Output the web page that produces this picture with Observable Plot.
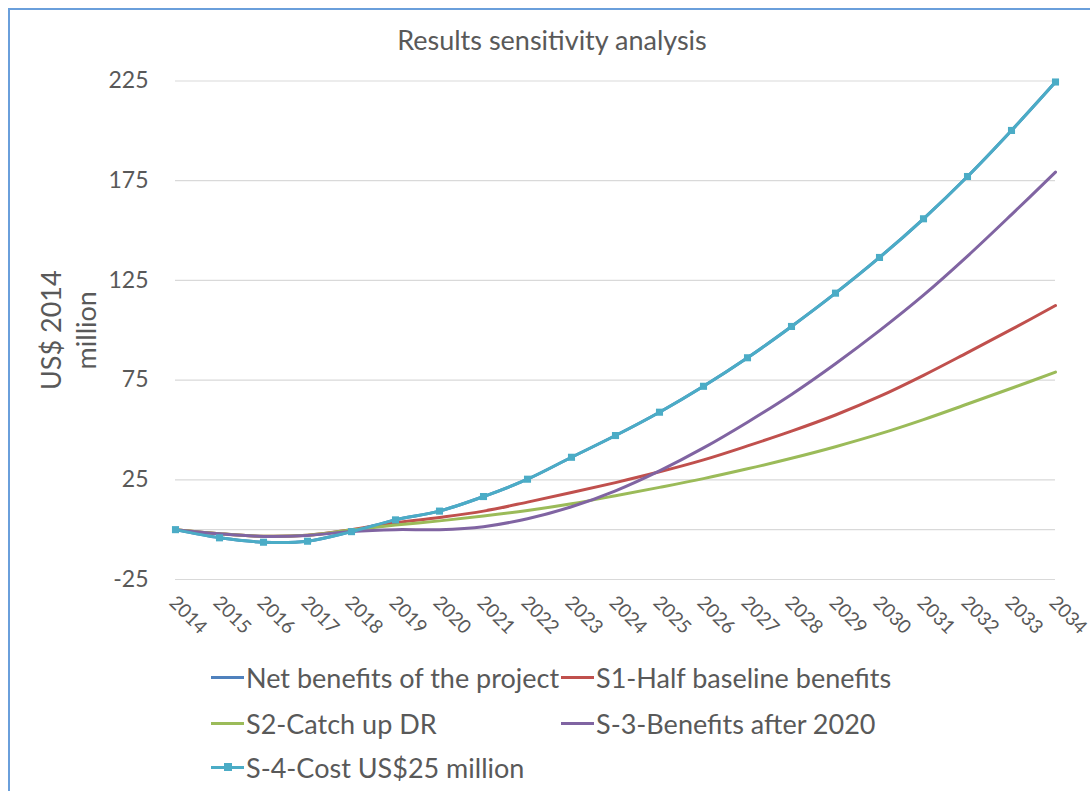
<!DOCTYPE html>
<html><head><meta charset="utf-8">
<script src="https://cdn.jsdelivr.net/npm/d3@7"></script>
<script src="https://cdn.jsdelivr.net/npm/@observablehq/plot@0.6"></script>
<style>
body{margin:0;background:#fff;overflow:hidden;font-family:Lato,"Open Sans",sans-serif;}
#wrap{position:relative;width:1090px;height:791px;overflow:hidden;background:#fff;}
#frame{position:absolute;left:8px;top:8px;width:1200px;height:900px;border:2px solid #6A9FDB;box-sizing:border-box;}
#chart{position:absolute;left:0;top:0;}
#chart svg{overflow:visible;}
#title{position:absolute;left:0;top:24px;width:1104px;text-align:center;font-size:27px;line-height:32px;color:#595959;}
.leg{position:absolute;height:34px;display:flex;align-items:center;font-size:27px;color:#595959;white-space:nowrap;}
.sw{position:relative;width:33px;height:3px;margin-right:2px;}
.mk{position:absolute;left:12.5px;top:-2.5px;width:8px;height:8px;}
</style></head>
<body>
<div id="wrap">
<div id="frame"></div>
<div id="chart"></div>
<div id="title">Results sensitivity analysis</div>
<div id="legend"></div>
</div>
<script>
const years = [2014,2015,2016,2017,2018,2019,2020,2021,2022,2023,2024,2025,2026,2027,2028,2029,2030,2031,2032,2033,2034];
const seriesNames = ["Net benefits of the project","S1-Half baseline benefits","S2-Catch up DR","S-3-Benefits after 2020","S-4-Cost US$25 million"];
const seriesColors = ["#4F81BD","#C0504D","#9BBB59","#8064A2","#4BACC6"];
const netBenefits = [0,-4.1,-6.3,-5.8,-1.0,4.9,9.3,16.6,25.3,36.3,47.2,58.9,71.9,86.2,101.9,118.6,136.5,155.9,177.1,200.2,224.5];
const s1Half      = [0,-2.0,-3.3,-2.8,0.0,3.4,6.1,9.3,13.8,18.6,23.6,29.0,35.0,42.0,49.4,57.5,66.8,77.4,88.8,100.4,112.4];
const s2Catch     = [0,-2.0,-3.3,-2.8,-0.2,2.3,4.4,6.8,9.6,13.0,17.0,21.2,25.6,30.5,35.8,41.6,48.0,55.2,63.0,70.9,79.0];
const s3After     = [0,-2.1,-3.4,-2.9,-0.9,0.0,0.0,1.5,5.5,11.5,19.5,29.5,41.0,53.9,67.8,83.2,99.8,117.6,137.2,158.0,179.3];
const s4Cost      = [0,-4.1,-6.3,-5.8,-1.0,4.9,9.3,16.6,25.3,36.3,47.2,58.9,71.9,86.2,101.9,118.6,136.5,155.9,177.1,200.2,224.5];
const yTicks = [-25,25,75,125,175,225];
const yTitle = "US$ 2014\nmillion";

const allSeries = [netBenefits, s1Half, s2Catch, s3After, s4Cost];
const rows = [];
allSeries.forEach((vals, si) => vals.forEach((v, i) => rows.push({series: seriesNames[si], year: years[i], value: v})));
const cyanRows = rows.filter(d => d.series === seriesNames[4]);

const chart = Plot.plot({
  width: 1090, height: 640,
  marginTop: 80.5, marginBottom: 61, marginLeft: 175, marginRight: 35,
  style: {fontFamily: "Lato, 'Open Sans', sans-serif", color: "#595959", background: "transparent", overflow: "visible"},
  x: {domain: [2014, 2034], axis: null},
  y: {domain: [-25, 225], axis: null},
  color: {domain: seriesNames, range: seriesColors},
  marks: [
    Plot.gridY(yTicks, {stroke: "#D9D9D9", strokeOpacity: 1, strokeWidth: 1.2}),
    Plot.ruleY([0], {stroke: "#D9D9D9", strokeWidth: 1.2}),
    Plot.axisY({ticks: yTicks, label: null, tickSize: 0, tickPadding: 27, fontSize: 23, tickFormat: d => String(d)}),
    Plot.line(rows, {x: "year", y: "value", z: "series", stroke: "series", strokeWidth: 3, curve: "catmull-rom"}),
    Plot.dot(cyanRows, {x: "year", y: "value", symbol: "square", r: 4, fill: seriesColors[4], stroke: "none"}),
    Plot.text(years, {x: d => d, y: () => -25, text: d => String(d), rotate: 45, textAnchor: "start", lineAnchor: "middle", fontSize: 19, fill: "#595959", dy: 20, dx: -3}),
    Plot.text([yTitle], {frameAnchor: "left", rotate: -90, textAnchor: "middle", lineAnchor: "middle", lineHeight: 1.3, fontSize: 27, fill: "#595959", dx: -108})
  ]
});
document.getElementById("chart").appendChild(chart);

const legPos = [[211,660],[561,660],[211,706],[561,706],[211,750]];
const legend = document.getElementById("legend");
seriesNames.forEach((name, i) => {
  const el = document.createElement("div");
  el.className = "leg";
  el.style.left = legPos[i][0] + "px";
  el.style.top = legPos[i][1] + "px";
  const sw = document.createElement("div");
  sw.className = "sw";
  sw.style.background = seriesColors[i];
  if (i === 4) {
    const mk = document.createElement("div");
    mk.className = "mk";
    mk.style.background = seriesColors[i];
    sw.appendChild(mk);
  }
  el.appendChild(sw);
  const t = document.createElement("span");
  t.textContent = name;
  el.appendChild(t);
  legend.appendChild(el);
});
</script>
</body></html>
